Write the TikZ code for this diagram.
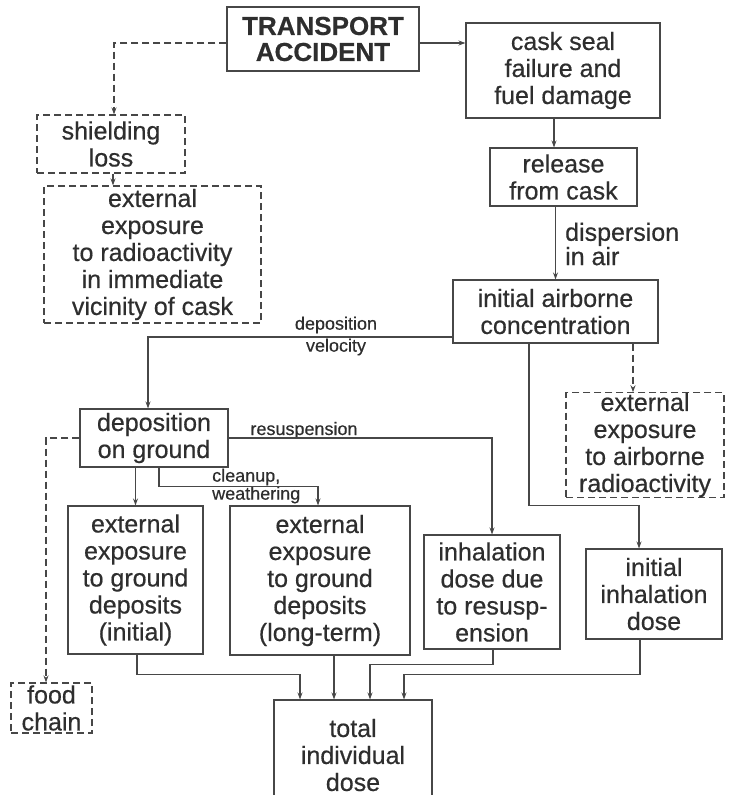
\documentclass[tikz,border=0pt]{standalone}
\usepackage{fontspec}
\setmainfont{Liberation Sans}[FakeBold=0.5]
\usetikzlibrary{arrows.meta,positioning,calc}
\definecolor{ink}{HTML}{2E2E2E}
\definecolor{wire}{HTML}{474747}
\tikzset{
  box/.style={draw=wire,line width=1.1pt,inner sep=0pt,align=center,text=ink,font=\fontsize{25}{27}\selectfont},
  dbox/.style={box,dash pattern=on 7pt off 4pt},
  head/.style={box,font=\bfseries\fontsize{26}{26}\selectfont},
  lbl/.style={font=\fontsize{18}{18}\selectfont,text=ink,inner sep=0pt},
  arr/.style={-{Stealth[length=7pt,width=5pt]},draw=wire,line width=1.1pt},
  darr/.style={arr,dash pattern=on 7pt off 4pt}
}

\begin{document}
\begin{tikzpicture}[x=1pt,y=-1pt]
\useasboundingbox (0,0) rectangle (734,795);
% top row
\node[head,minimum width=192pt,minimum height=64pt] (acc) at (323,39) {TRANSPORT\\ACCIDENT};
\node[box,minimum width=194pt,minimum height=95pt] (seal) at (563,70.5) {cask seal\\failure and\\fuel damage};
\node[box,minimum width=147pt,minimum height=58pt] (release) at (563.5,177) {release\\from cask};
\node[box,minimum width=205pt,minimum height=63pt] (air) at (555.5,311.5) {initial airborne\\concentration};
\node[dbox,minimum width=148pt,minimum height=58pt] (shield) at (111,144) {shielding\\loss};
\node[dbox,minimum width=217pt,minimum height=137pt] (vicin) at (152.5,254.5) {external\\exposure\\to radioactivity\\in immediate\\vicinity of cask};
% middle row
\node[box,minimum width=148pt,minimum height=58pt] (depo) at (154,438) {deposition\\on ground};
\node[dbox,minimum width=158pt,minimum height=102pt] (extair) at (645,445) {external\\exposure\\to airborne\\radioactivity};
% dose boxes
\node[box,minimum width=135pt,minimum height=148pt] (extini) at (135.5,580) {external\\exposure\\to ground\\deposits\\(initial)};
\node[box,minimum width=180pt,minimum height=149pt] (extlong) at (320,580.5) {external\\exposure\\to ground\\deposits\\(long-term)};
\node[box,minimum width=136pt,minimum height=114pt] (inhres) at (492,592) {inhalation\\dose due\\to resusp-\\ension};
\node[box,minimum width=136pt,minimum height=90pt] (inhini) at (654,594) {initial\\inhalation\\dose};
\node[dbox,minimum width=81pt,minimum height=50pt] (food) at (51.5,708) {food\\chain};
\node[box,minimum width=158pt,minimum height=110pt] (total) at (353,755) {total\\individual\\dose};
% labels
\node[lbl,align=left,anchor=west,font=\fontsize{25}{23}\selectfont] (ldisp) at (565,244) {dispersion\\in air};
\node[lbl,align=center,font=\fontsize{18}{22}\selectfont] (lvel) at (336,336) {deposition\\velocity};
\node[lbl,anchor=base] (lres) at (304,435) {resuspension};
\node[lbl,align=left,anchor=west] (lclean) at (212,486) {cleanup,\\weathering};
% connectors
\draw[arr] ([yshift=-4pt]acc.east) -- ([yshift=-4pt]acc.east -| seal.west);
\draw[darr] ([yshift=-4pt]acc.west) -| ([xshift=3pt]shield.north);
\draw[darr] ([xshift=2pt]shield.south) -- ([xshift=2pt]shield.south |- vicin.north);
\draw[arr] ([xshift=-9pt]seal.south) -- ([xshift=-9pt]seal.south |- release.north);
\draw[arr] (release.south -| air.north) -- (air.north);
\draw[arr] ([yshift=-25.5pt]air.west) -| ([xshift=-6pt]depo.north);
\draw[darr] ([xshift=-12pt]extair.north |- air.south) -- ([xshift=-12pt]extair.north);
\draw[arr] ([xshift=-26.5pt]air.south) -- ++(0,162) -| ([xshift=-15pt]inhini.north);
\draw[arr] (depo.east) -| (inhres.north);
\draw[arr] (depo.south -| extini.north) -- (extini.north);
\draw[arr] ([xshift=5pt]depo.south) -- ++(0,19) -| ([xshift=-2pt]extlong.north);
\draw[darr] (depo.west) -| ([xshift=-5.5pt]food.north);
\draw[arr] ([xshift=1.5pt]extini.south) -- ++(0,20) -| ([xshift=-53pt]total.north);
\draw[arr] ([xshift=-19pt]total.north |- extlong.south) -- ([xshift=-19pt]total.north);
\draw[arr] ([xshift=1pt]inhres.south) -- ++(0,15) -| ([xshift=17pt]total.north);
\draw[arr] ([xshift=-14pt]inhini.south) -- ++(0,35) -| ([xshift=51pt]total.north);
\end{tikzpicture}
\end{document}
